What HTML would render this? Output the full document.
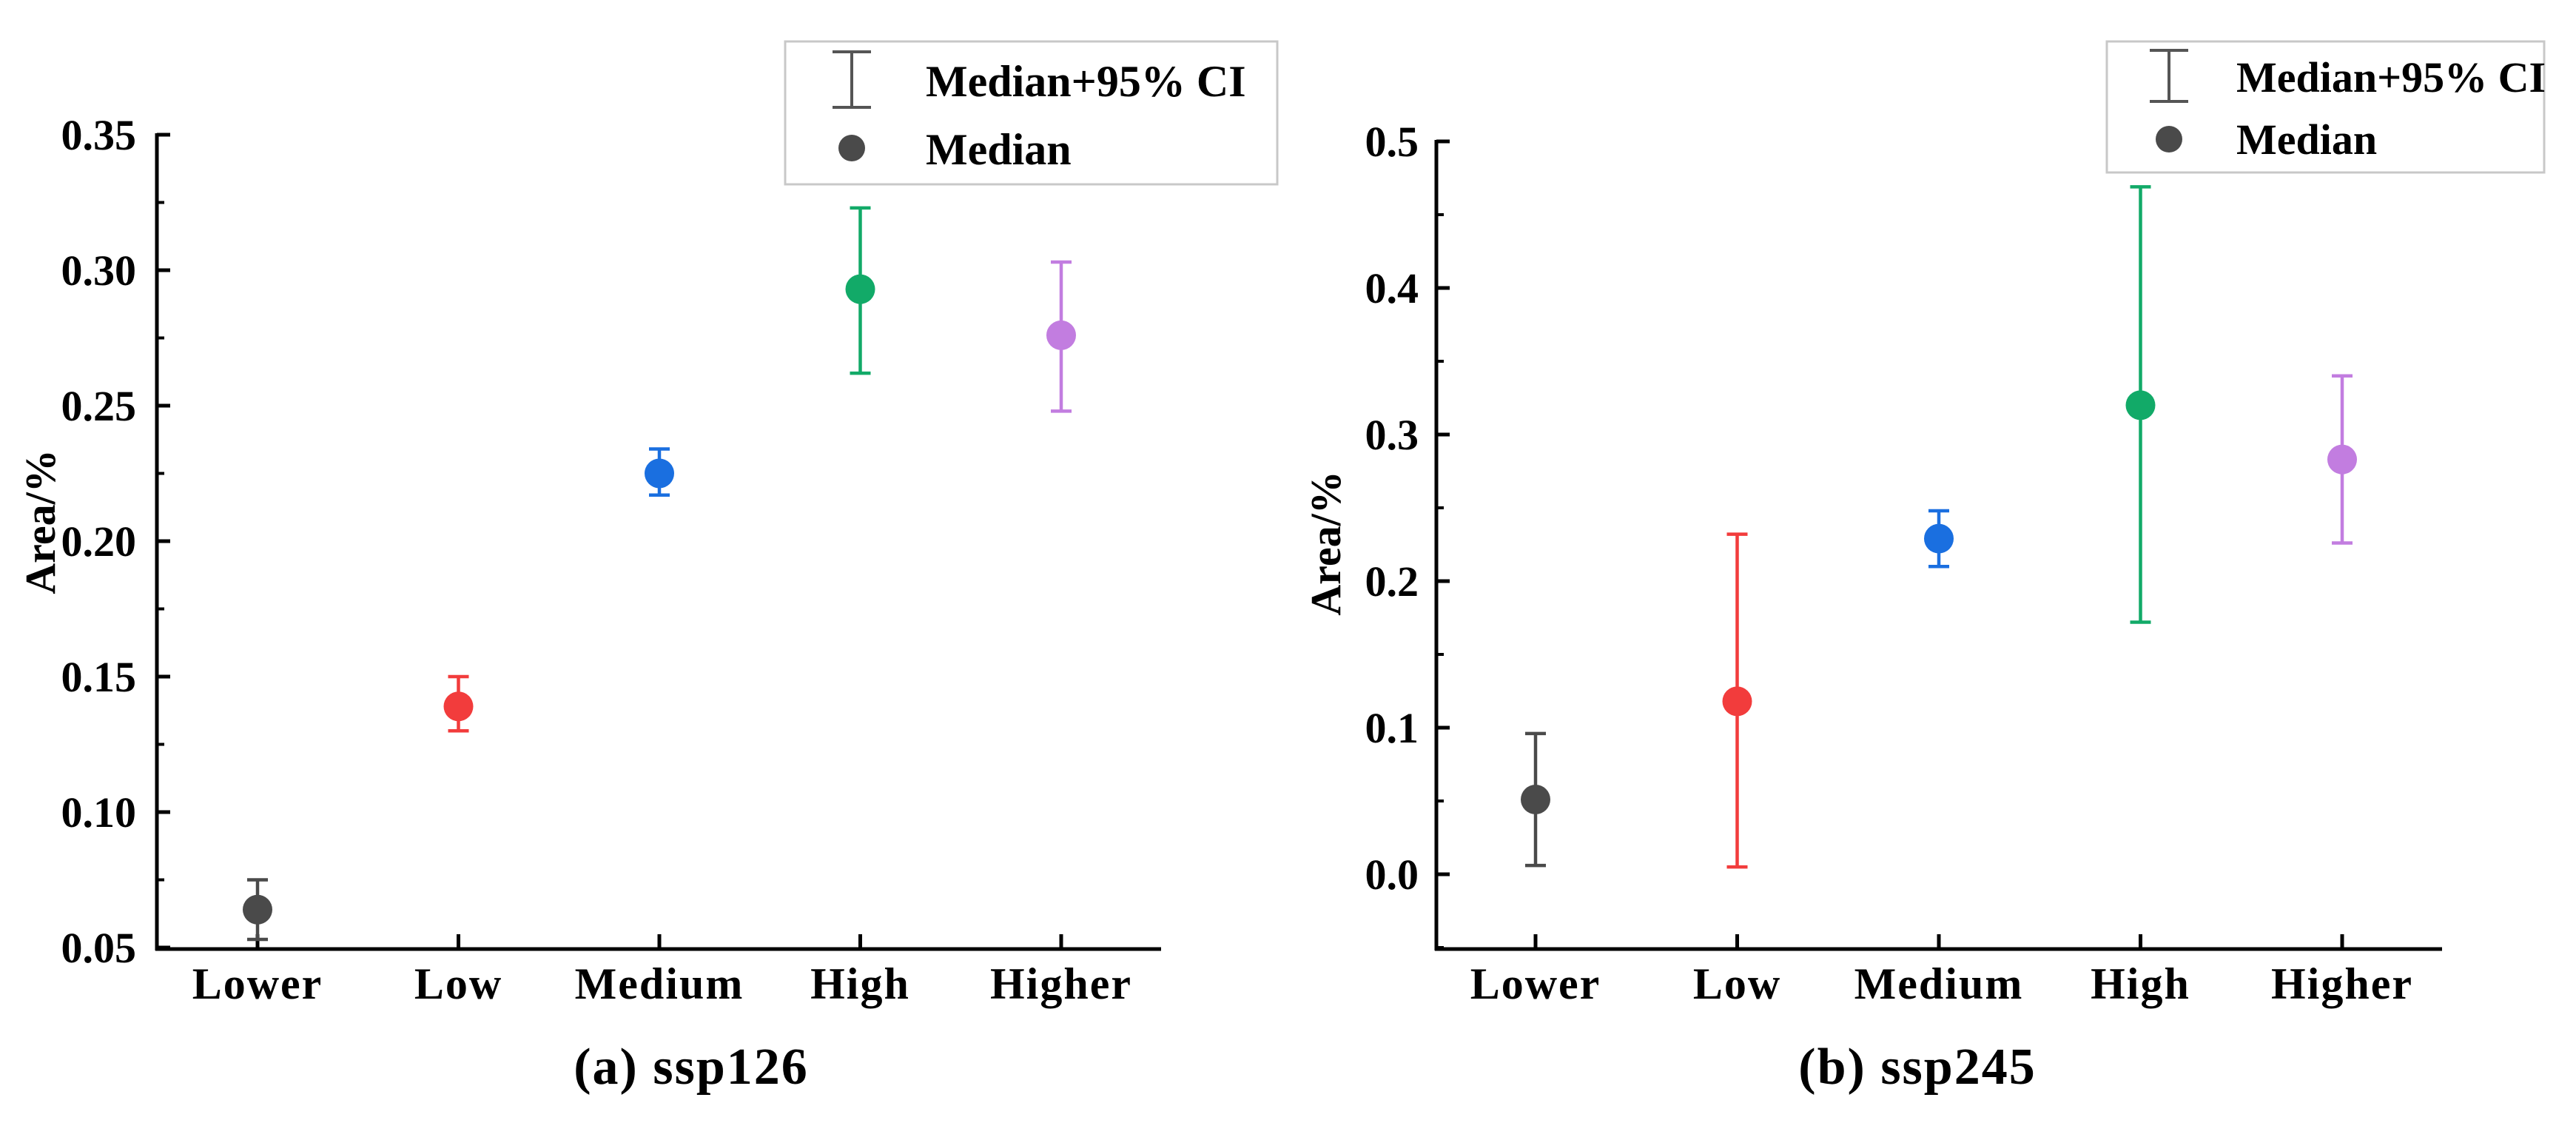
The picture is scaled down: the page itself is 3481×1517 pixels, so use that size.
<!DOCTYPE html>
<html><head><meta charset="utf-8"><style>
html,body{margin:0;padding:0;background:#fff;}
svg{display:block;font-family:"Liberation Serif",serif;font-weight:bold;}
</style></head><body>
<svg id="fig" width="3481" height="1517" viewBox="0 0 3481 1517" xmlns="http://www.w3.org/2000/svg"></svg>
<script>
const categories=["Lower","Low","Medium","High","Higher"];
const colors=["#4a4a4a","#f23c3c","#1a6fe0","#12aa68","#c27de0"];
const aMedian=[0.064,0.139,0.225,0.293,0.276];
const aLower=[0.053,0.130,0.217,0.262,0.248];
const aUpper=[0.075,0.150,0.234,0.323,0.303];
const aTicks=["0.05","0.10","0.15","0.20","0.25","0.30","0.35"];
const bMedian=[0.051,0.118,0.229,0.320,0.283];
const bLower=[0.006,0.005,0.210,0.172,0.226];
const bUpper=[0.096,0.232,0.248,0.469,0.340];
const bTicks=["0.0","0.1","0.2","0.3","0.4","0.5"];

const svg=document.getElementById('fig');
const NS="http://www.w3.org/2000/svg";
function mk(tag,attrs,parent){const e=document.createElementNS(NS,tag);for(const k in attrs)e.setAttribute(k,attrs[k]);(parent||svg).appendChild(e);return e;}

function panel(cfg){
  const g=mk('g',{});
  
  
  const y=v=>cfg.y0+(v-cfg.vmin)/(cfg.vmax-cfg.vmin)*(cfg.y1-cfg.y0);
  const x=i=>cfg.cx0+i*cfg.step;
  const ya=mk('line',{x1:cfg.ax,y1:y(cfg.vmax)-2,x2:cfg.ax,y2:cfg.axBottom+2,stroke:'#000','stroke-width':5},g);
  
  const xa=mk('line',{x1:cfg.ax-2,y1:cfg.axBottom,x2:cfg.axRight,y2:cfg.axBottom,stroke:'#000','stroke-width':5},g);
  
  const ticks=cfg.ticks;
  ticks.forEach((t,i)=>{
    const v=parseFloat(t),yy=y(v);
    mk('line',{x1:cfg.ax,y1:yy,x2:cfg.ax+18,y2:yy,stroke:'#000','stroke-width':5},g);
    const tx=mk('text',{x:cfg.lblRight,y:yy+20,'text-anchor':'end','font-size':58,fill:'#000'},g);
    tx.textContent=t;
    
    if(i<ticks.length-1){const m=y(v+cfg.tstep/2);mk('line',{x1:cfg.ax,y1:m,x2:cfg.ax+10,y2:m,stroke:'#000','stroke-width':4},g);}
  });
  if(cfg.extraMinor!==undefined){const m=y(cfg.extraMinor);mk('line',{x1:cfg.ax,y1:m,x2:cfg.ax+10,y2:m,stroke:'#000','stroke-width':4},g);}
  categories.forEach((c,i)=>{
    const xx=x(i);
    mk('line',{x1:xx,y1:cfg.axBottom,x2:xx,y2:cfg.axBottom-20,stroke:'#000','stroke-width':5},g);
    const tx=mk('text',{x:xx,y:1349,'text-anchor':'middle','font-size':60,'letter-spacing':2,fill:'#000'},g);
    tx.textContent=c;
    
  });
  categories.forEach((c,i)=>{
    const xx=x(i),col=colors[i];
    const eb=mk('g',{},g);
    
    mk('line',{x1:xx,y1:y(cfg.lo[i]),x2:xx,y2:y(cfg.hi[i]),stroke:col,'stroke-width':4.5},eb);
    mk('line',{x1:xx-14,y1:y(cfg.lo[i]),x2:xx+14,y2:y(cfg.lo[i]),stroke:col,'stroke-width':4.5},eb);
    mk('line',{x1:xx-14,y1:y(cfg.hi[i]),x2:xx+14,y2:y(cfg.hi[i]),stroke:col,'stroke-width':4.5},eb);
    const p=mk('circle',{cx:xx,cy:y(cfg.med[i]),r:20,fill:col},g);
    
  });
  const yt=mk('text',{x:0,y:0,'text-anchor':'middle','font-size':58,fill:'#000',transform:`translate(${cfg.ylx},${cfg.yly}) rotate(-90)`},g);
  yt.textContent='Area/%';
  
  const ct=mk('text',{x:cfg.capx,y:1464,'text-anchor':'middle','font-size':70,'letter-spacing':2,fill:'#000'},g);
  ct.textContent=cfg.caption;
  
  const L=cfg.leg;
  const lg=mk('g',{},g);
  
  mk('rect',{x:L.x,y:L.y,width:L.w,height:L.h,fill:'#fff',stroke:'#c8c8c8','stroke-width':3},lg);
  const e1=mk('g',{},lg);
  
  mk('line',{x1:L.ix,y1:L.e1a,x2:L.ix,y2:L.e1b,stroke:'#555','stroke-width':4},e1);
  mk('line',{x1:L.ix-26,y1:L.e1a,x2:L.ix+26,y2:L.e1a,stroke:'#555','stroke-width':4},e1);
  mk('line',{x1:L.ix-26,y1:L.e1b,x2:L.ix+26,y2:L.e1b,stroke:'#555','stroke-width':4},e1);
  const t1=mk('text',{x:L.tx,y:L.b1,'font-size':L.fs,fill:'#000'},e1);t1.textContent='Median+95% CI';
  const e2=mk('g',{},lg);
  
  mk('circle',{cx:L.ix,cy:L.dy,r:18,fill:'#4a4a4a'},e2);
  const t2=mk('text',{x:L.tx,y:L.b2,'font-size':L.fs,fill:'#000'},e2);t2.textContent='Median';
}

panel({name:'panel-a-ssp126',vmin:0.05,vmax:0.35,y0:1280,y1:182,ax:212,axBottom:1282,axRight:1569,cx0:348,step:271.5,
  ticks:aTicks,tstep:0.05,lblRight:184,med:aMedian,lo:aLower,hi:aUpper,ylx:74,yly:705,capx:934,caption:'(a) ssp126',
  leg:{x:1061,y:56,w:665,h:193,ix:1151,e1a:70,e1b:145,dy:200,tx:1251,b1:130,b2:222,fs:60}});
panel({name:'panel-b-ssp245',vmin:0,vmax:0.5,y0:1181,y1:191,ax:1941,axBottom:1282,axRight:3300,cx0:2075,step:272.5,
  ticks:bTicks,tstep:0.1,extraMinor:-0.05,lblRight:1917,med:bMedian,lo:bLower,hi:bUpper,ylx:1811,yly:734,capx:2591,caption:'(b) ssp245',
  leg:{x:2847,y:56,w:591,h:177,ix:2931,e1a:68,e1b:137,dy:188,tx:3022,b1:124,b2:208,fs:58}});
</script>
</body></html>
